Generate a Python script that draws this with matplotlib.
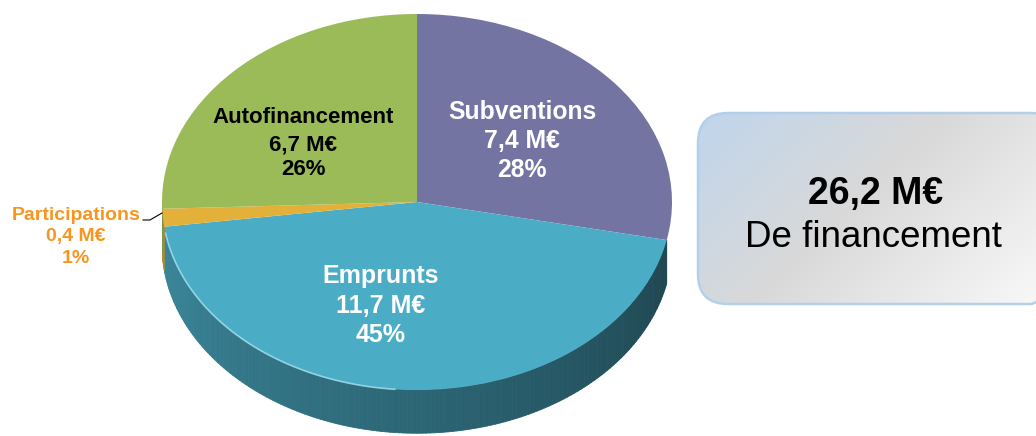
import matplotlib.pyplot as plt
import numpy as np
from matplotlib.patches import FancyBboxPatch
from matplotlib.collections import PolyCollection
import matplotlib.colors as mcolors

plt.rcParams['font.family'] = ['Liberation Sans', 'DejaVu Sans']

# Data (M€)
labels = ['Subventions', 'Emprunts', 'Participations', 'Autofinancement']
values = [7.4, 11.7, 0.4, 6.7]
amounts = ['7,4 M€', '11,7 M€', '0,4 M€', '6,7 M€']
percents = ['28%', '45%', '1%', '26%']
colors = ['#7474a3', '#4bacc6', '#e3b13a', '#9bbb59']
total_text = '26,2 M€'
total_sub = 'De financement'

W, H = 1036, 436
fig = plt.figure(figsize=(W / 100, H / 100), dpi=100)

# pie axes: unit circle mapped to an ellipse (tilted look)
cx_px, cy_px, rx_px, ry_px = 417, 202, 255, 188
depth = 0.23
ylo, yhi = -1.0 - depth - 0.05, 1.02
ax = fig.add_axes([(cx_px - rx_px) / W,
                   (H - (cy_px - ylo * ry_px)) / H,
                   2 * rx_px / W,
                   (yhi - ylo) * ry_px / H])

wedges, _ = ax.pie(values, colors=colors, startangle=90, counterclock=False,
                   radius=1, wedgeprops=dict(linewidth=0, zorder=3))

# side of the "3D" pie: shaded strips along the lower half of each wedge
polys, fcols = [], []
for w, c in zip(wedges, colors):
    t1, t2 = w.theta1, w.theta2
    while t2 > 0:
        t1 -= 360
        t2 -= 360
    lo, hi = max(t1, -180), min(t2, 0)
    if hi <= lo:
        continue
    steps = np.linspace(lo, hi, max(2, int((hi - lo) / 1.0) + 1))
    base = np.array(mcolors.to_rgb(c))
    for a, b in zip(steps[:-1], steps[1:]):
        ra, rb = np.radians(a), np.radians(b)
        polys.append([(np.cos(ra), np.sin(ra)), (np.cos(rb), np.sin(rb)),
                      (np.cos(rb), np.sin(rb) - depth),
                      (np.cos(ra), np.sin(ra) - depth)])
        mid = (a + b) / 2
        f = 0.8 - 0.42 * (mid + 180) / 180
        fcols.append(np.clip(base * f, 0, 1))
side = PolyCollection(polys, facecolors=fcols, edgecolors=fcols,
                      linewidths=0.6, zorder=2)
ax.add_collection(side)

# light rim on the front edge
emp = wedges[1]
tt = np.radians(np.linspace(emp.theta1 + 2, -95, 80))
ax.plot(np.cos(tt), np.sin(tt), color='#a6e3f2', lw=1.2, alpha=0.8, zorder=4)

ax.set_aspect('auto')
ax.set_xlim(-1, 1)
ax.set_ylim(ylo, yhi)
ax.axis('off')

# overlay in pixel coordinates for labels and the total box
ov = fig.add_axes([0, 0, 1, 1])
ov.set_xlim(0, W)
ov.set_ylim(H, 0)
ov.axis('off')

label_style = {
    'Subventions': dict(x=522, ys=(119, 148, 177), color='white', size=17.8),
    'Emprunts': dict(x=381, ys=(283, 313, 342), color='white', size=18),
    'Participations': dict(x=76, ys=(220, 241, 263), color='#f7951e', size=14),
    'Autofinancement': dict(x=303, ys=(123, 150, 175), color='black', size=16),
}
for name, amt, pct in zip(labels, amounts, percents):
    st = label_style[name]
    for s, y in zip((name, amt, pct), st['ys']):
        ov.text(st['x'], y, s, ha='center', va='baseline', color=st['color'],
                fontsize=st['size'], fontweight='bold')

# leader line for the small slice
ov.plot([143, 150, 162], [220, 220, 213], color='black', lw=0.8)

# total box with gradient fill (runs past the right edge)
bx, by, bw, bh = 698, 113, 362, 191
box = FancyBboxPatch((bx, by), bw, bh, boxstyle='round,pad=0,rounding_size=30',
                     fc='none', ec='#b3cfe9', lw=1.8, zorder=3)
ov.add_patch(box)
u = np.linspace(0, 1, 200)
v = np.linspace(0, 1, 120)
U, V = np.meshgrid(u, v)
t = np.clip(0.65 * U + 0.35 * V, 0, 1)
c0 = np.array([192, 213, 236]) / 255
c1 = np.array([217, 217, 217]) / 255
c2 = np.array([250, 250, 250]) / 255
grad = np.where((t < 0.45)[..., None],
                c0 + (c1 - c0) * (t / 0.45)[..., None],
                c1 + (c2 - c1) * ((t - 0.45) / 0.55)[..., None])
im = ov.imshow(grad, extent=(bx, bx + bw, by + bh, by), origin='upper',
               aspect='auto', zorder=2)
im.set_clip_path(box)
ov.set_xlim(0, W)
ov.set_ylim(H, 0)

ov.text(876, 204, total_text, ha='center', va='baseline', fontsize=27,
        fontweight='bold', color='black', zorder=4)
ov.text(873, 247, total_sub, ha='center', va='baseline', fontsize=26.5,
        color='black', zorder=4)

fig.savefig('out.png', dpi=100)
